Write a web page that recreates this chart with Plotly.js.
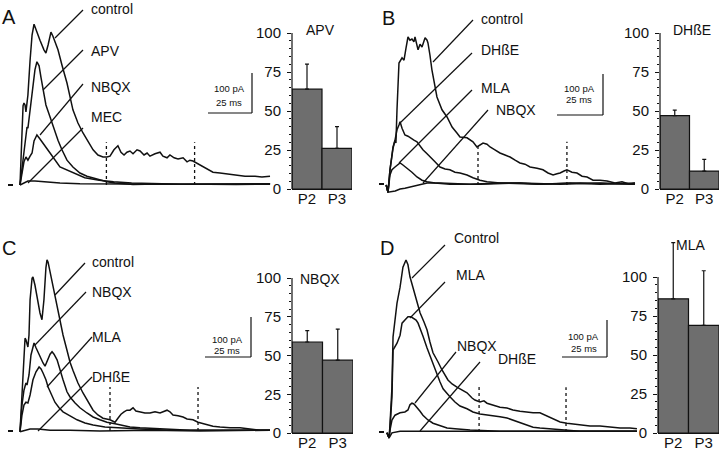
<!DOCTYPE html>
<html><head><meta charset="utf-8">
<script src="https://cdn.plot.ly/plotly-3.0.1.min.js"></script>
<style>html,body{margin:0;padding:0;background:#fff}#chart{width:720px;height:451px}</style>
</head><body><div id="chart"></div>
<script>
// ---------------- DATA ----------------
// Bar charts: % of control charge in windows P2 and P3
const barCategories = ['P2', 'P3'];
const barTitles = ['APV', 'DHßE', 'NBQX', 'MLA'];
const barTicks = [0, 25, 50, 75, 100];
const barA = [64, 26];   const errA = [16, 14];
const barB = [47, 11.5]; const errB = [3.5, 7.5];
const barC = [58.7, 47]; const errC = [7.3, 20];
const barD = [86, 69];   const errD = [36, 35];

// Trace labels per panel
const labelsA = ['control', 'APV', 'NBQX', 'MEC'];
const labelsB = ['control', 'DHßE', 'MLA', 'NBQX'];
const labelsC = ['control', 'NBQX', 'MLA', 'DHßE'];
const labelsD = ['Control', 'MLA', 'NBQX', 'DHßE'];

// Panel A currents: time (ms), current (pA)
const tA_control = [0,0.6,1.1,1.7,2.2,2.8,3.3,4.4,5.6,6.7,7.8,8.9,11.1,13.3,14.4,15.6,16.7,17.2,18.3,20,21.1,23.3,26.1,29.4,32.2,35,37.8,40.6,43.3,46.1,48.3,50,52.2,54.4,56.1,57.8,59.4,61.1,62.8,65,66.7,68.9,70.6,72.2,75,77.8,79.4,81.7,83.3,85.6,87.8,90.6,92.8,94.4,96.1,100,103.9,107.2,111.1,115,119.4,125,130.6,134.4,138.9];
const iA_control = [0,62,150,198,205,200,183,225,312,375,402,388,362,338,330,350,378,382,372,350,338,300,255,188,155,130,108,88,75,70,70,72,88,98,82,75,82,85,78,88,85,75,80,72,78,82,72,68,75,68,65,68,58,62,60,50,40,32,30,28,25,22,22,20,22];
const tA_apv = [0,1.1,2.2,3.3,3.9,4.4,5.6,7.2,8.3,9.4,10.6,11.7,12.8,14.4,16.7,18.9,21.1,23.3,26.1,29.4,33.3,37.2,40.6,44.4,48.3,52.8,58.3,62.8,69.4,77.8,88.9,100,111.1,122.2,130.6,138.9];
const iA_apv = [0,38,88,125,145,142,188,250,288,308,298,268,238,200,170,138,112,88,62,45,30,22,18,12,8,5,2,1,2,2,2,1,2,1,2,2];
const tA_nbqx = [0,1.1,2.2,3.3,4.4,5.6,6.7,7.8,9.4,11.1,12.8,16.7,22.2,29.4,36,44,52,62,75,90,105,120,139];
const iA_nbqx = [0,32,58,70,62,72,80,110,125,115,105,80,45,30,18,12,8,5,3,2,2,1,3];
const tA_mec = [0,2.2,4.4,8.3,13.9,22.2,33.3,55.6,88.9,138.9];
const iA_mec = [0,5,10,10,8,5,3,2,2,3];

// Panel B
const tB_control = [-1,0,1.1,2.2,2.8,3.9,4.4,5,5.6,6.1,7.8,8.9,10,11.1,12.2,13.3,14.4,15,16.7,17.8,18.9,20.6,21.7,22.2,23.3,24.4,27.2,30,32.8,35.6,38.3,40,43.9,47.2,49.4,51.1,52.8,55,56.7,59.4,62.2,65,67.8,70.6,73.3,76.1,78.9,82.8,86.1,88.9,91.7,93.9,95.6,97.8,99.4,102.2,105,107.8,110.6,113.9,117.8,121.7,126.1,130,134.4,137.2];
const iB_control = [0,-18,38,80,95,112,105,188,275,305,318,312,342,370,362,365,358,370,338,352,345,368,362,355,325,288,220,188,170,145,130,120,118,108,95,100,105,102,95,88,80,75,70,62,55,52,45,42,38,30,25,28,30,35,38,32,30,22,20,12,12,10,5,8,2,5];
const tB_dhbe = [-1,0,1.1,2.2,2.8,3.9,5,6.1,6.7,7.8,9.4,11.1,12.2,14.4,16.1,17.8,19.4,21.7,23.3,26.1,28.9,31.7,34.4,37.2,40,43.9,47.2,51.1,55,62.2,73.3,84.4,101.1,117.8,137.2];
const iB_dhbe = [0,-18,38,75,92,112,138,150,158,142,125,122,118,112,108,98,88,78,70,58,45,40,38,32,30,25,18,12,8,5,5,2,5,2,5];
const tB_mla = [-1,0,1.1,2.2,3.9,5.6,6.7,8.3,10.6,13.3,16.1,18.9,21.7,26.1,34.4,51.1,73.3,95.6,117.8,137.2];
const iB_mla = [0,-18,25,38,45,52,55,50,42,32,20,12,8,5,2,2,5,2,5,2];
const tB_nbqx = [-1,0,4,6.7,9.4,13.9,17.8,21.7,28.9,45.6,62.2,84.4,106.7,137.2];
const iB_nbqx = [0,-18,-15,-10,-8,-3,2,5,5,2,5,2,5,2];

// Panel C
const tC_control = [0,0.6,1.7,2.2,2.8,3.3,3.9,4.4,5,5.6,6.7,7.2,8.3,10,11.1,12.2,13.3,14.4,15,15.6,16.7,18.3,20.6,22.2,23.9,26.1,27.8,29.4,32.2,35,37.8,40.6,43.3,46.1,50,52.8,54.4,56.1,57.8,59.4,61.1,62.8,64.4,66.7,69.4,72.2,75,77.8,80,81.7,83.3,85,87.8,90.6,92.8,96.1,98.9,101.7,103.9,107.2,111.1,116.7,122.2,127.8,133.3,138.9];
const iC_control = [-2,52,152,215,232,228,215,210,240,328,382,385,365,320,295,278,328,408,428,422,398,360,315,278,240,202,172,152,120,95,72,52,40,32,28,22,32,42,48,52,52,58,50,48,45,45,48,45,50,52,48,40,38,35,30,28,22,18,15,12,10,8,8,5,2,2];
const tC_nbqx = [0,1.1,2.2,3.3,3.9,5,6.1,7.2,7.8,8.9,11.1,12.8,13.9,15.6,16.7,17.8,18.9,20.6,22.2,23.9,26.1,27.8,30.6,33.3,37.2,40.6,44.4,48.3,52.8,55.6,61.1,66.7,77.8,94.4,116.7,138.9];
const iC_nbqx = [-2,65,102,120,115,140,190,215,220,208,185,170,162,178,192,198,192,178,152,128,98,85,70,58,45,35,28,22,18,15,10,8,5,2,2,2];
const tC_mla = [0,1.1,2.2,3.3,4.4,5.6,7.2,8.9,10.6,11.7,12.8,14.4,15.6,17.8,19.4,21.7,23.9,27.8,31.7,36.1,40.6,47.2,53.9,66.7,83.3,105.6,138.9];
const iC_mla = [-2,40,65,72,70,90,128,148,160,155,145,128,110,90,72,58,48,38,28,20,15,10,8,5,2,2,2];
const tC_dhbe = [0,2.8,5.6,10,16.7,27.8,44.4,72.2,100,138.9];
const iC_dhbe = [-2,2,5,5,2,2,0,2,0,2];

// Panel D
const tD_control = [-0.6,0.6,1.1,2.2,2.8,3.9,5,6.7,8.3,10,11.1,12.2,13.9,15,17.8,20,21.7,23.3,25,27.8,30,33.3,35.6,38.3,41.1,43.9,46.7,48.3,51.1,53.3,55,58.3,62.2,66.1,69.4,73.3,77.2,80.6,84.4,87.2,90,92.8,95.6,99.4,103.9,108.3,112.2,117.8,123.3,128.9,134.4,138.3];
const iD_control = [-2,-15,18,112,238,285,322,362,412,430,418,388,360,338,298,275,255,225,198,175,155,130,120,112,105,98,85,80,75,78,72,68,62,60,55,52,50,48,48,42,35,30,25,22,20,18,15,15,12,10,10,8];
const tD_mla = [-0.6,0.6,1.1,2.2,2.8,3.9,5,6.7,7.8,9.4,11.1,12.8,13.9,15.6,16.7,18.3,19.4,21.7,23.3,25,27.2,28.9,30.6,32.8,34.4,37.2,40,43.9,47.2,51.1,56.7,62.2,66.1,69.4,73.3,77.2,80.6,84.4,90,95.6,106.7,117.8,138.3];
const iD_mla = [-2,-15,10,88,205,215,222,242,272,280,288,288,285,280,272,255,240,210,190,170,145,125,108,95,88,75,65,58,50,45,42,38,35,30,25,18,12,10,8,5,2,2,2];
const tD_nbqx = [-0.6,0.6,1.1,2.2,3.9,6.7,9.4,11.1,12.2,13.3,14.4,16.1,17.8,19.4,22.2,25,28.9,32.8,37.2,45.6,62.2,90,117.8,138.3];
const iD_nbqx = [-2,-15,5,30,42,48,50,55,68,72,70,62,52,42,30,22,15,10,8,5,2,2,2,2];
const tD_dhbe = [-0.6,0.6,2.2,6.7,17.8,45.6,90,138.3];
const iD_dhbe = [-2,-15,-2,2,2,2,2,2];

// ---------------- LAYOUT ----------------
const W = 720, H = 451;
const px = x => x / W;
const py = y => 1 - y / H;
const FONT = "'Liberation Sans', Arial, sans-serif";
const MS = 1.8, PA = 0.4, T0 = -3, T1 = 142, I0 = -30, I1 = 440;

const panels = [
  {letter: 'A', lx: 9, ly: 17, x0: 20, yb: 185,
   series: [[tA_control, iA_control], [tA_apv, iA_apv], [tA_nbqx, iA_nbqx], [tA_mec, iA_mec]],
   labels: labelsA,
   lab: [[92, 9, 83, 10, 55, 38], [92, 51, 83, 50, 43, 90], [92, 87, 83, 84, 40, 135], [92, 117, 83, 128, 28, 183]],
   win: [[48, 107, 97, 107]],
   scale: {vx: 252, vy0: 73, vy1: 113, hx0: 208, t1: 89, t2: 102},
   bar: {x: [292, 352], y: [33, 189], ymax: 100, vals: barA, err: errA, title: barTitles[0], tx: 320, ty: 30},
   dash: [8, 13, 185]},
  {letter: 'B', lx: 388, ly: 18, x0: 388, yb: 185,
   series: [[tB_control, iB_control], [tB_dhbe, iB_dhbe], [tB_mla, iB_mla], [tB_nbqx, iB_nbqx]],
   labels: labelsB,
   lab: [[482, 19, 473, 20, 433, 62], [482, 50, 472, 53, 400, 123], [482, 88, 472, 90, 399, 163], [497, 110, 488, 110, 423, 183]],
   win: [[50, 105, 99.4, 108]],
   scale: {vx: 603, vy0: 74, vy1: 115, hx0: 557, t1: 89, t2: 100},
   bar: {x: [660, 719], y: [33, 189], ymax: 100, vals: barB, err: errB, title: barTitles[1], tx: 692, ty: 30},
   dash: [379, 384, 184]},
  {letter: 'C', lx: 9, ly: 248, x0: 20, yb: 431,
   series: [[tC_control, iC_control], [tC_nbqx, iC_nbqx], [tC_mla, iC_mla], [tC_dhbe, iC_dhbe]],
   labels: labelsC,
   lab: [[93, 262, 85, 263, 55, 295], [93, 292, 86, 292, 35, 345], [93, 337, 92, 337, 47, 387], [93, 377, 92, 377, 38, 431]],
   win: [[50, 110, 98.9, 110]],
   scale: {vx: 251, vy0: 317, vy1: 357, hx0: 205, t1: 339, t2: 350},
   bar: {x: [292, 353], y: [278, 433], ymax: 100, vals: barC, err: errC, title: barTitles[2], tx: 320, ty: 279},
   dash: [8, 13, 431]},
  {letter: 'D', lx: 387, ly: 248, x0: 388, yb: 432,
   series: [[tD_control, iD_control], [tD_mla, iD_mla], [tD_nbqx, iD_nbqx], [tD_dhbe, iD_dhbe]],
   labels: labelsD,
   lab: [[455, 238, 445, 245, 412, 278], [457, 275, 445, 282, 410, 318], [458, 346, 456, 352, 415, 403], [499, 359, 480, 362, 420, 431]],
   win: [[50.6, 118, 98.9, 112]],
   scale: {vx: 607, vy0: 320, vy1: 357, hx0: 562, t1: 336, t2: 348},
   bar: {x: [658, 719], y: [277, 433], ymax: 126, vals: barD, err: errD, title: barTitles[3], tx: 690, ty: 245},
   dash: [379, 384, 432]}
];

const data = [];
const layout = {
  width: W, height: H, margin: {l: 0, r: 0, t: 0, b: 0, pad: 0},
  paper_bgcolor: '#ffffff', plot_bgcolor: 'rgba(0,0,0,0)',
  showlegend: false, hovermode: false, bargap: 0,
  font: {family: FONT, color: '#111', size: 14},
  shapes: [], annotations: []
};
const BLACK = '#111111';
const lineShape = (x0, y0, x1, y1, extra) => Object.assign({
  type: 'line', xref: 'paper', yref: 'paper',
  x0: px(x0), y0: py(y0), x1: px(x1), y1: py(y1),
  line: {color: BLACK, width: 1.2}
}, extra || {});
const minorVals = [];
for (let v = 5; v < 100; v += 5) if (v % 25) minorVals.push(v);

panels.forEach((p, k) => {
  const tn = 2 * k + 1, bn = 2 * k + 2;
  const tx = 'x' + (tn === 1 ? '' : tn), ty = 'y' + (tn === 1 ? '' : tn);
  const bx = 'x' + bn, by = 'y' + bn;
  // trace axes: 1.8 px per ms, 0.4 px per pA
  layout['xaxis' + (tn === 1 ? '' : tn)] = {
    domain: [px(p.x0 + T0 * MS), px(p.x0 + T1 * MS)], range: [T0, T1],
    visible: false, fixedrange: true, anchor: ty};
  layout['yaxis' + (tn === 1 ? '' : tn)] = {
    domain: [py(p.yb - I0 * PA), py(p.yb - I1 * PA)], range: [I0, I1],
    visible: false, fixedrange: true, anchor: tx};
  p.series.forEach(s => data.push({
    type: 'scatter', mode: 'lines', x: s[0], y: s[1], xaxis: tx, yaxis: ty,
    line: {color: BLACK, width: 1.5}, cliponaxis: false
  }));
  // analysis windows (dotted)
  p.win.forEach(w => {
    layout.shapes.push({type: 'line', xref: tx, yref: ty, x0: w[0], x1: w[0], y0: 0, y1: w[1],
      line: {color: BLACK, width: 1.3, dash: 'dot'}});
    layout.shapes.push({type: 'line', xref: tx, yref: ty, x0: w[2], x1: w[2], y0: 0, y1: w[3],
      line: {color: BLACK, width: 1.3, dash: 'dot'}});
  });
  // bar axes (y axis line drawn 0..100 only)
  const unit = (p.bar.y[1] - p.bar.y[0]) / 100;
  layout['xaxis' + bn] = {
    domain: [px(p.bar.x[0]), px(p.bar.x[1])], type: 'category', range: [-0.5, 1.5],
    anchor: by, showline: true, linecolor: BLACK, linewidth: 1.2, ticks: '',
    ticklabelstandoff: -4,
    tickfont: {size: 15, family: FONT, color: BLACK}, showgrid: false, zeroline: false, fixedrange: true};
  layout['yaxis' + bn] = {
    domain: [py(p.bar.y[1]), py(p.bar.y[1] - p.bar.ymax * unit)], range: [0, p.bar.ymax], anchor: bx,
    tickmode: 'array', tickvals: barTicks, ticks: 'outside', ticklen: 4, tickwidth: 1, tickcolor: BLACK,
    minor: {tickmode: 'array', tickvals: minorVals, ticks: 'outside', ticklen: 2, tickwidth: 1, tickcolor: BLACK},
    showline: false, showgrid: false, zeroline: false,
    tickfont: {size: 15, family: FONT, color: BLACK}, ticklabelstandoff: 3, fixedrange: true};
  layout.shapes.push({type: 'line', xref: bx + ' domain', yref: by, x0: 0, x1: 0, y0: 0, y1: 100,
    line: {color: BLACK, width: 1.2}});
  data.push({
    type: 'bar', x: barCategories, y: p.bar.vals, width: [1, 1], xaxis: bx, yaxis: by,
    marker: {color: '#6e6e6e', line: {color: BLACK, width: 1.2}},
    error_y: {type: 'data', symmetric: false, array: p.bar.err, arrayminus: [0, 0],
      color: BLACK, thickness: 1.2, width: 2}
  });
  layout.annotations.push({xref: 'paper', yref: 'paper', x: px(p.bar.tx), y: py(p.bar.ty),
    text: p.bar.title, showarrow: false, xanchor: 'center', yanchor: 'middle',
    font: {size: 14, family: FONT, color: BLACK}});
  // panel letter
  layout.annotations.push({xref: 'paper', yref: 'paper', x: px(p.lx), y: py(p.ly),
    text: p.letter, showarrow: false, xanchor: 'center', yanchor: 'middle',
    font: {size: 20, family: FONT, color: BLACK}});
  // trace labels with leader lines
  p.lab.forEach((L, j) => {
    layout.annotations.push({xref: 'paper', yref: 'paper', x: px(L[0] - 3), y: py(L[1]),
      text: p.labels[j], showarrow: false, xanchor: 'left', yanchor: 'middle',
      font: {size: 14, family: FONT, color: BLACK}});
    layout.shapes.push(lineShape(L[2], L[3], L[4], L[5]));
  });
  // scale bars
  const s = p.scale;
  layout.shapes.push(lineShape(s.vx, s.vy0, s.vx, s.vy1));
  layout.shapes.push(lineShape(s.hx0, s.vy1, s.vx, s.vy1));
  const cx = (s.hx0 + s.vx) / 2 - 1;
  layout.annotations.push({xref: 'paper', yref: 'paper', x: px(cx), y: py(s.t1), text: '100 pA',
    showarrow: false, xanchor: 'center', yanchor: 'middle', font: {size: 9.5, family: FONT, color: BLACK}});
  layout.annotations.push({xref: 'paper', yref: 'paper', x: px(cx), y: py(s.t2), text: '25 ms',
    showarrow: false, xanchor: 'center', yanchor: 'middle', font: {size: 9.5, family: FONT, color: BLACK}});
  // baseline marker
  layout.shapes.push(lineShape(p.dash[0], p.dash[2], p.dash[1], p.dash[2], {line: {color: BLACK, width: 2}}));
});

Plotly.newPlot('chart', data, layout, {staticPlot: true, displayModeBar: false});
</script>
</body></html>
